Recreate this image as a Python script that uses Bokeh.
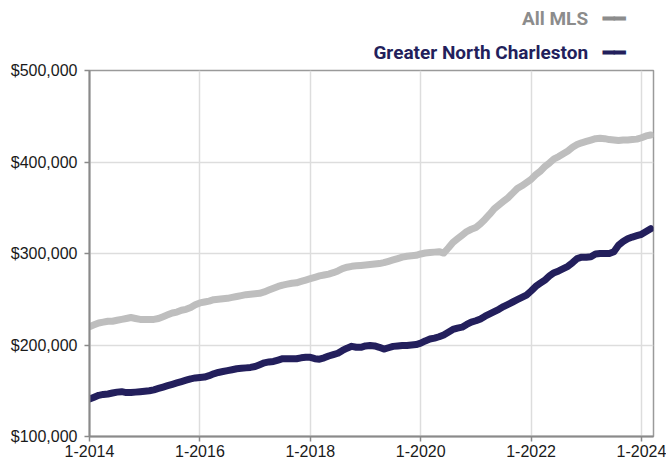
from bokeh.plotting import figure
from bokeh.models import ColumnDataSource, FixedTicker, NumeralTickFormatter, Title, Range1d
from bokeh.embed import file_html
from bokeh.resources import INLINE

start_year = 2014
# Monthly values, Jan 2014 .. Mar 2024 (in $ thousands)
all_mls = [
    220, 222, 224, 225, 226, 226, 227, 228, 229, 230, 229, 228,
    228, 228, 228, 229, 231, 233, 235, 236, 238, 239, 241, 244,
    246, 247, 248, 249.5, 250, 250.5, 251, 252, 253, 254, 255, 255.5,
    256, 256.5, 258, 260, 262, 264, 265.5, 266.5, 267.5, 268, 269.5, 271,
    272.5, 274, 275.5, 276.5, 277.5, 279, 281, 283.5, 285, 286, 286.5, 287,
    287.5, 288, 288.5, 289, 290, 291.5, 293, 294.5, 296, 297, 297.5, 298,
    299.5, 300.5, 301, 301.5, 302, 300.5, 306, 312, 316, 320, 324, 326.5,
    328.5, 332.5, 337.5, 343, 349, 353, 357, 361, 366, 371, 374, 377.5,
    381, 386, 390, 395, 399, 403.5, 406, 409, 412, 416, 419, 421,
    422.5, 424, 425.5, 426, 425.5, 424.5, 424, 423.5, 424, 424, 424.5, 425,
    426.5, 428.5, 429.5,
]
greater_north_charleston = [
    141, 143, 145, 146, 146.5, 147.5, 148.5, 149, 148, 148, 148.5, 149,
    149.5, 150, 151, 152.5, 154, 155.5, 157, 158.5, 160, 161.5, 163, 164,
    164.5, 165, 166.5, 168.5, 170, 171, 172, 173, 174, 174.5, 175, 175.5,
    176.5, 178.5, 180.5, 181.5, 182, 183.5, 185, 185, 185, 185, 186, 186.5,
    186.5, 185, 184.5, 186, 188, 189.5, 191, 194, 196.5, 198.5, 197.5, 197.5,
    199, 199.5, 199, 197.5, 195.5, 197, 198.5, 199, 199.5, 199.5, 200, 200.5,
    202, 204.5, 206.5, 207.5, 209, 211, 214, 217, 218.5, 219.5, 222.5, 225,
    226.5, 228.5, 231.5, 234, 236.5, 239, 242, 244.5, 247, 249.5, 252, 254.5,
    259, 264, 267.5, 271, 275.5, 279, 281, 283.5, 286, 290, 294.5, 296,
    296, 296.5, 299.5, 300, 300, 300, 302, 309, 313, 316, 318, 319.5,
    321, 324, 327,
]
x_ticks = [2014, 2016, 2018, 2020, 2022, 2024]
x_tick_labels = ["1-2014", "1-2016", "1-2018", "1-2020", "1-2022", "1-2024"]
y_ticks = [100000, 200000, 300000, 400000, 500000]
series_names = ["All MLS", "Greater North Charleston"]

months = [start_year + i / 12 for i in range(len(all_mls))]
src = ColumnDataSource(dict(
    x=months,
    mls=[v * 1000 for v in all_mls],
    gnc=[v * 1000 for v in greater_north_charleston],
))

GRAY = "#BEBEBE"
NAVY = "#231F5C"

p = figure(width=666, height=466, output_backend="svg", toolbar_location=None,
           x_range=Range1d(2014, 2014 + 564 / 55.2), y_range=Range1d(100000, 500000),
           min_border_left=89, min_border_right=13, min_border_top=70, min_border_bottom=30)

p.line("x", "mls", source=src, line_color=GRAY, line_width=7,
       line_cap="round", line_join="round")
p.line("x", "gnc", source=src, line_color=NAVY, line_width=7,
       line_cap="round", line_join="round")

p.xaxis.ticker = FixedTicker(ticks=x_ticks)
p.xaxis.major_label_overrides = {t: l for t, l in zip(x_ticks, x_tick_labels)}
p.yaxis.ticker = FixedTicker(ticks=y_ticks)
p.yaxis.formatter = NumeralTickFormatter(format="$0,0")

for ax in (p.xaxis[0], p.yaxis[0]):
    ax.axis_line_color = "#8A8A8A"
    ax.axis_line_width = 2
    ax.major_tick_line_color = "#8A8A8A"
    ax.major_tick_line_width = 1.5
    ax.major_tick_out = 5
    ax.major_tick_in = 0
    ax.minor_tick_line_color = None
    ax.major_label_text_font = "Liberation Sans"
    ax.major_label_text_font_size = "16px"
    ax.major_label_text_color = "#1A1A1A"
p.yaxis.major_label_standoff = 7
p.xaxis.major_label_standoff = 3

p.xgrid.ticker = FixedTicker(ticks=x_ticks)
p.ygrid.ticker = FixedTicker(ticks=y_ticks)
p.grid.grid_line_color = "#DDDDDD"
p.grid.grid_line_width = 1.5

p.outline_line_color = "#9A9A9A"
p.outline_line_width = 1.5
p.background_fill_color = "white"
p.border_fill_color = "white"

# legend as right-aligned titles above the frame: text, gap, dash
for name, color, standoff in [(series_names[1], NAVY, 14), (series_names[0], "#8C8C8C", 3)]:
    p.add_layout(Title(text=name + "\u2002 \u2501\u2501", align="right", offset=29,
                       standoff=standoff, text_font="Roboto", text_font_style="bold",
                       text_font_size="19px", text_color=color), "above")

open("out.html", "w").write(file_html(p, INLINE))
